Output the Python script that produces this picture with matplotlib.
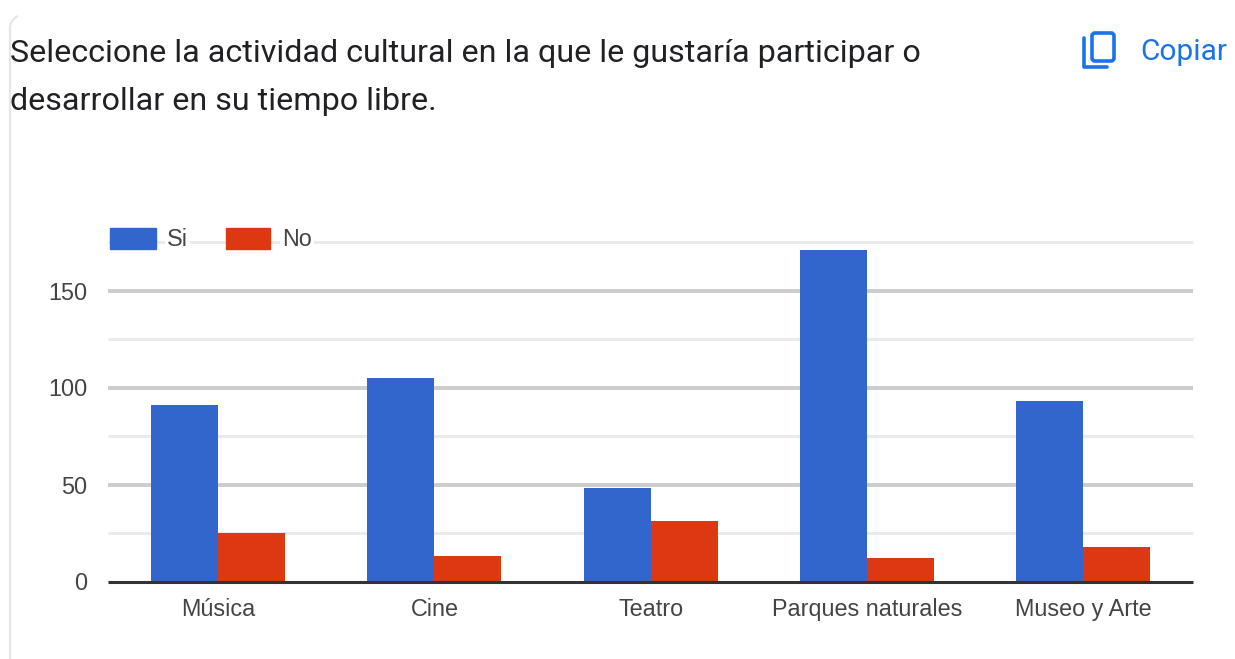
import matplotlib
matplotlib.use('Agg')
import matplotlib.pyplot as plt
import numpy as np
from matplotlib.patches import FancyBboxPatch, Rectangle
from matplotlib.path import Path
from matplotlib.patches import PathPatch

categories = ['Música', 'Cine', 'Teatro', 'Parques naturales', 'Museo y Arte']
si_values = [91, 105, 48, 171, 93]
no_values = [25, 13, 31, 12, 18]
major_ticks = [0, 50, 100, 150]
minor_ticks = [25, 75, 125, 175]

W, H = 1235, 659
BLUE = '#3366cc'
RED = '#dc3912'
LINK = '#1a73e8'

fig = plt.figure(figsize=(W / 100, H / 100), dpi=100, facecolor='white')

# chart area in pixel positions of the reference
left, right, top, bottom = 108, 1193, 242, 581.5
ax = fig.add_axes([left / W, 1 - bottom / H, (right - left) / W, (bottom - top) / H])

x = np.arange(len(categories))
width = 0.31
ax.bar(x - width / 2, si_values, width, color=BLUE, zorder=3)
ax.bar(x + width / 2, no_values, width, color=RED, zorder=3)

ax.set_xlim(-0.509, 4.507)
ax.set_ylim(0, 175)
ax.set_xticks(x)
ax.set_xticklabels(categories, family='Liberation Sans', fontsize=16.8, color='#444444')
ax.set_yticks(major_ticks)
ax.set_yticklabels(major_ticks, family='Liberation Sans', fontsize=16.8, color='#444444')
ax.tick_params(axis='both', length=0)
ax.tick_params(axis='x', pad=12)
ax.tick_params(axis='y', pad=15)

for v in minor_ticks:
    ax.axhline(v, color='#ebebeb', lw=2.2, zorder=1, clip_on=False, solid_capstyle='butt')
for v in major_ticks[1:]:
    ax.axhline(v, color='#cccccc', lw=2.8, zorder=2, solid_capstyle='butt')
ax.axhline(0, color='#333333', lw=2.2, zorder=4, clip_on=False, solid_capstyle='butt')
for s in ax.spines.values():
    s.set_visible(False)

# overlay for title, legend and the page bits, in pixel coords
ov = fig.add_axes([0, 0, 1, 1], facecolor='none')
ov.set_xlim(0, W)
ov.set_ylim(H, 0)
ov.axis('off')

ov.text(10, 54, 'Seleccione la actividad cultural en la que le gustaría participar o',
        family='Roboto', fontsize=23.2, color='#202124', va='center')
ov.text(10, 102, 'desarrollar en su tiempo libre.',
        family='Roboto', fontsize=23.2, color='#202124', va='center')
ov.text(1140, 52, 'Copiar', family='Roboto', fontsize=21.5, color=LINK, va='center')

# legend
ov.add_patch(Rectangle((110, 228), 46, 21, color=BLUE))
ov.add_patch(Rectangle((226, 228), 44, 21, color=RED))
bg = dict(facecolor='white', edgecolor='none', pad=1.5)
ov.text(167, 239, 'Si', family='Liberation Sans', fontsize=16.8, color='#444444', va='center', bbox=bg)
ov.text(282, 239, 'No', family='Liberation Sans', fontsize=16.8, color='#444444', va='center', bbox=bg)

# copy icon
ov.add_patch(FancyBboxPatch((1092, 33), 22, 28, boxstyle='round,pad=0,rounding_size=3',
                            fill=False, edgecolor=LINK, lw=2.6))
icon = Path([(1084, 38), (1084, 67), (1107, 67)])
ov.add_patch(PathPatch(icon, fill=False, edgecolor=LINK, lw=2.6, capstyle='round', joinstyle='round'))

# card border on the left
border = Path([(10, 659), (10, 28), (10, 20), (18, 16)],
              [Path.MOVETO, Path.LINETO, Path.CURVE3, Path.CURVE3])
ov.add_patch(PathPatch(border, fill=False, edgecolor='#e6e6ea', lw=1.6))

fig.savefig('out.png', dpi=100)
